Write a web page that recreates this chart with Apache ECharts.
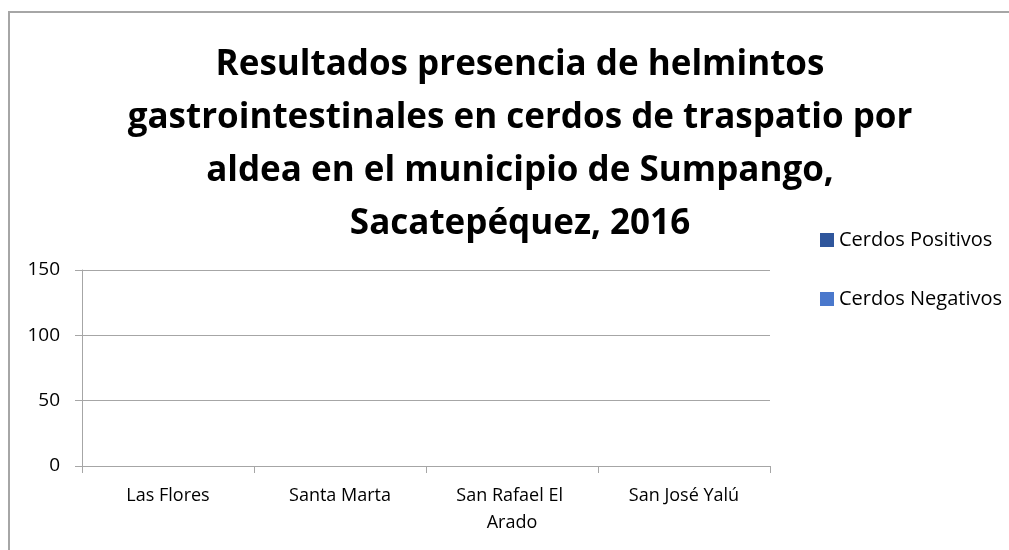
<!DOCTYPE html>
<html>
<head>
<meta charset="utf-8">
<script src="https://cdn.jsdelivr.net/npm/echarts@6/dist/echarts.min.js"></script>
<style>
  html, body { margin: 0; padding: 0; background: #fff; }
  #frame { position: absolute; left: 8px; top: 11px; width: 1100px; height: 700px;
           border-top: 2px solid #a6a6a6; border-left: 2px solid #a6a6a6; }
  #chart { position: absolute; left: 0; top: 0; width: 1009px; height: 550px; }
</style>
</head>
<body>
<div id="frame"></div>
<div id="chart"></div>
<script>
// villages (categories)
const aldeas = ["Las Flores", "Santa Marta", "San Rafael El Arado", "San José Yalú"]
// nothing is drawn in the source chart, so both series are empty
const positivos = [0, 0, 0, 0]
const negativos = [0, 0, 0, 0]
const yTicks = [0, 50, 100, 150]

const font = "'Open Sans', sans-serif"
const chart = echarts.init(document.getElementById("chart"))

chart.setOption({
  animation: false,
  title: {
    text: "Resultados presencia de helmintos\ngastrointestinales en cerdos de traspatio por\naldea en el municipio de Sumpango,\nSacatepéquez, 2016",
    left: 515,
    top: 34,
    textAlign: "center",
    textStyle: {
      fontFamily: font,
      fontSize: 35,
      fontWeight: "bold",
      color: "#000",
      lineHeight: 53,
    },
  },
  legend: {
    orient: "vertical",
    left: 815,
    top: 225,
    itemWidth: 14,
    itemHeight: 14,
    itemGap: 39,
    icon: "rect",
    textStyle: { fontFamily: font, fontSize: 20, color: "#000" },
    data: ["Cerdos Positivos", "Cerdos Negativos"],
  },
  grid: { left: 82, right: 239, top: 270, bottom: 84 },
  xAxis: {
    type: "category",
    data: aldeas,
    axisLine: { lineStyle: { color: "#a6a6a6", width: 1 } },
    axisTick: { show: true, interval: 0, length: 7, lineStyle: { color: "#a6a6a6" } },
    axisLabel: {
      interval: 0,
      fontFamily: font,
      fontSize: 18,
      color: "#000",
      margin: 16,
      width: 140,
      overflow: "break",
      lineHeight: 27,
    },
  },
  yAxis: {
    type: "value",
    min: yTicks[0],
    max: yTicks[yTicks.length - 1],
    interval: 50,
    axisLine: { show: true, lineStyle: { color: "#a6a6a6", width: 1 } },
    axisTick: { show: true, length: 7, lineStyle: { color: "#a6a6a6" } },
    axisLabel: { fontFamily: font, fontSize: 19, color: "#000", margin: 22 },
    splitLine: { lineStyle: { color: "#a6a6a6", width: 1 } },
  },
  series: [
    {
      name: "Cerdos Positivos",
      type: "bar",
      data: positivos,
      itemStyle: { color: "#2f569c" },
    },
    {
      name: "Cerdos Negativos",
      type: "bar",
      data: negativos,
      itemStyle: { color: "#4a78cc" },
    },
  ],
})
</script>
</body>
</html>
